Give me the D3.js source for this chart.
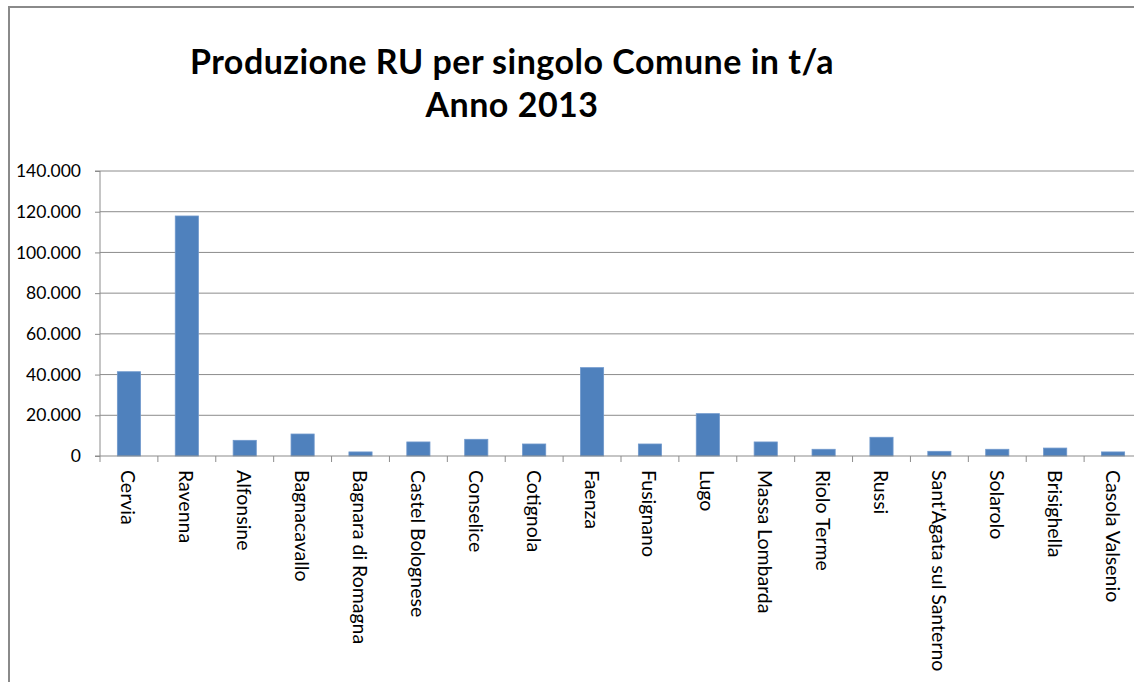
<!DOCTYPE html>
<html>
<head>
<meta charset="utf-8">
<script src="https://cdn.jsdelivr.net/npm/d3@7"></script>
<style>
  html, body { margin: 0; padding: 0; background: #fff; }
  svg { display: block; }
  text { font-family: Lato, "Open Sans", sans-serif; fill: #000; }
</style>
</head>
<body>
<svg id="chart" width="1134" height="682"></svg>
<script>
// Municipal solid waste production (t/year), 2013
const comuni = [
  "Cervia", "Ravenna", "Alfonsine", "Bagnacavallo", "Bagnara di Romagna",
  "Castel Bolognese", "Conselice", "Cotignola", "Faenza", "Fusignano",
  "Lugo", "Massa Lombarda", "Riolo Terme", "Russi", "Sant'Agata sul Santerno",
  "Solarolo", "Brisighella", "Casola Valsenio"
];
const produzione = [
  41400, 117900, 7700, 10800, 2000,
  6900, 8200, 5900, 43400, 5900,
  20800, 6900, 3300, 9200, 2300,
  3300, 3900, 2000
];
const yTicks = [0, 20000, 40000, 60000, 80000, 100000, 120000, 140000];
const titleLines = ["Produzione RU per singolo Comune in t/a", "Anno 2013"];

const svg = d3.select("#chart");
const W = 1134, H = 682;
const plot = { left: 100, top: 171, right: 1142, bottom: 456 };

// outer frame (left and top edges visible)
svg.append("path")
  .attr("d", `M9,${H} L9,7 L${W},7`)
  .attr("fill", "none")
  .attr("stroke", "#8a8a8a")
  .attr("stroke-width", 2);

// title
svg.append("g").selectAll("text")
  .data(titleLines)
  .join("text")
  .attr("x", 512)
  .attr("y", (d, i) => 74 + i * 43)
  .attr("text-anchor", "middle")
  .attr("font-size", 34)
  .attr("letter-spacing", 0.5)
  .attr("font-weight", "bold")
  .text(d => d);

const x = d3.scaleBand()
  .domain(comuni)
  .range([plot.left, plot.right])
  .paddingInner(0.6)
  .paddingOuter(0.3);

const y = d3.scaleLinear()
  .domain([0, 140000])
  .range([plot.bottom, plot.top]);

const fmt = v => d3.format(",")(v).replace(/,/g, ".");

// horizontal gridlines
svg.append("g")
  .selectAll("line")
  .data(yTicks.slice(1))
  .join("line")
  .attr("x1", plot.left)
  .attr("x2", W)
  .attr("y1", d => y(d))
  .attr("y2", d => y(d))
  .attr("stroke", "#8c8c8c")
  .attr("stroke-width", 1);

// bars
svg.append("g")
  .selectAll("rect")
  .data(comuni)
  .join("rect")
  .attr("x", d => x(d))
  .attr("width", x.bandwidth())
  .attr("y", (d, i) => y(produzione[i]))
  .attr("height", (d, i) => y(0) - y(produzione[i]))
  .attr("fill", "#4f81bd")
  .attr("stroke", "#6f98cc")
  .attr("stroke-width", 0.8);

// y axis
const yAxis = d3.axisLeft(y)
  .tickValues(yTicks)
  .tickFormat(fmt)
  .tickSize(5)
  .tickPadding(14);
const gy = svg.append("g")
  .attr("transform", `translate(${plot.left},0)`)
  .call(yAxis);
gy.select(".domain").attr("stroke", "#8c8c8c").attr("d", `M-5,${plot.top}H0V${plot.bottom}H-5`);
gy.selectAll(".tick line").attr("stroke", "#8c8c8c");
gy.selectAll(".tick text")
  .attr("font-size", 17.5)
  .attr("font-family", "Lato, sans-serif")
  .attr("fill", "#1a1a1a");

// x axis: baseline, category separators and rotated labels
const step = x.step();
const bounds = d3.range(comuni.length + 1).map(i => plot.left + i * step);
svg.append("line")
  .attr("x1", plot.left).attr("x2", W)
  .attr("y1", plot.bottom).attr("y2", plot.bottom)
  .attr("stroke", "#8c8c8c").attr("stroke-width", 1.2);
svg.append("g")
  .selectAll("line")
  .data(bounds)
  .join("line")
  .attr("x1", d => d).attr("x2", d => d)
  .attr("y1", plot.bottom).attr("y2", plot.bottom + 6)
  .attr("stroke", "#8c8c8c");

svg.append("g")
  .selectAll("text")
  .data(comuni)
  .join("text")
  .attr("transform", d => `translate(${x(d) + x.bandwidth() / 2 - 7.5},${plot.bottom + 14}) rotate(90)`)
  .attr("text-anchor", "start")
  .attr("font-size", 19.5)
  .attr("fill", "#1a1a1a")
  .text(d => d);
</script>
</body>
</html>
